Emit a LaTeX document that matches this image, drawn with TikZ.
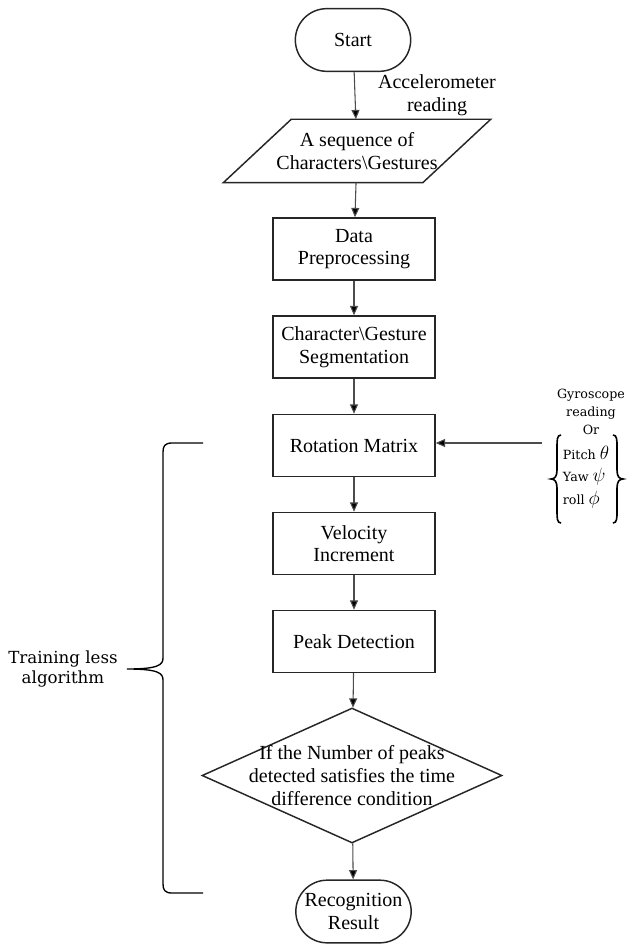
\documentclass[tikz,border=0pt]{standalone}
\usepackage{amsmath}
\usepackage{fontspec}
\setmainfont{Liberation Serif}
\newfontfamily\schfont{DejaVu Serif}
\usetikzlibrary{shapes.geometric,shapes.misc,arrows.meta}

\begin{document}
\begin{tikzpicture}[x=0.75pt, y=-0.75pt,
    box/.style={draw=black!85, line width=1.1pt, minimum width=121.5pt, minimum height=46.5pt,
      align=center, inner sep=1pt, font=\fontsize{15}{17}\selectfont},
    terminal/.style={box, rounded rectangle, minimum width=88.5pt, minimum height=47pt},
    flow/.style={-{Triangle[length=7pt,width=6pt,fill=black]}, line width=0.8pt, draw=black!70},
    side/.style={align=center, inner sep=0pt, font=\schfont\fontsize{9.5}{13.5}\selectfont}]
  \useasboundingbox (0,0) rectangle (627,944);

  % Main chain
  \node[terminal] (start) at (353,40) {Start};
  \node[box, draw=none, minimum width=148.5pt] (seq) at (357,151) {A sequence of\\Characters\textbackslash Gestures};
  \draw[line width=1.1pt, black!85] ([xshift=-25.5pt]seq.south west) -- ([xshift=25.5pt]seq.north west)
    -- ([xshift=25.5pt]seq.north east) -- ([xshift=-25.5pt]seq.south east) -- cycle;
  \node[box] (data) at (354,249) {Data\\Preprocessing};
  \node[box] (seg) at (354,347) {Character\textbackslash Gesture\\Segmentation};
  \node[box] (rot) at (354,445.5) {Rotation Matrix};
  \node[box] (vel) at (354,543.5) {Velocity\\Increment};
  \node[box] (peak) at (354,641.5) {Peak Detection};
  \node[box, diamond, minimum width=225pt, minimum height=101.25pt, inner sep=0pt] (cond) at (352,775.5) {};
  \node[align=center, font=\fontsize{15}{17}\selectfont] (condtext) at (cond.center) {If the Number of peaks\\detected satisfies the time\\difference condition};
  \node[terminal] (result) at (353.5,911.5) {Recognition\\Result};

  % Arrows
  \draw[flow] (start) -- (seq);
  \draw[flow] (seq) -- (data);
  \draw[flow] (data) -- (seg);
  \draw[flow] (seg) -- (rot);
  \draw[flow] (rot) -- (vel);
  \draw[flow] (vel) -- (peak);
  \draw[flow] (peak) -- (cond);
  \draw[flow] (cond) -- (result);

  % Sensor inputs
  \node[align=center, font=\fontsize{15}{17}\selectfont] (acc) at (437,95) {Accelerometer\\reading};
  \coordinate (gyro) at (542,443);
  \draw[flow] (gyro) -- (gyro -| rot.east);
  \node[side] (gyrolbl) at (591,412) {Gyroscope\\reading\\Or};
  \node[side, align=left, font=\schfont\fontsize{9.5}{17}\selectfont] (angles) at (586,477)
    {Pitch {\Large$\theta$}\\Yaw {\Large$\psi$}\\roll {\Large$\phi$}};
  % braces round the angles
  \draw[line width=1.2pt] (561,435) .. controls (557,435) and (557,440) .. (557,447) -- (557,470)
    .. controls (557,476) and (555,479) .. (551,479) .. controls (555,479) and (557,482) .. (557,488)
    -- (557,511) .. controls (557,518) and (557,523) .. (561,523);
  \draw[line width=1.2pt] (613,435) .. controls (617,435) and (617,440) .. (617,447) -- (617,470)
    .. controls (617,476) and (619,479) .. (623,479) .. controls (619,479) and (617,482) .. (617,488)
    -- (617,511) .. controls (617,518) and (617,523) .. (613,523);

  % Brace around the training less part
  \coordinate (tip) at (127,669);
  \draw[line width=1pt] (203,443) -- (172,443) .. controls (165,443) and (163,446) .. (163,452)
    -- (163,658) .. controls (163,665) and (158,669) .. (tip)
    .. controls (158,669) and (163,673) .. (163,680)
    -- (163,884) .. controls (163,890) and (165,893) .. (172,893) -- (203,893);
  \node[side, font=\schfont\fontsize{12.5}{15}\selectfont] (train) at (63,669) {Training less\\algorithm};
\end{tikzpicture}
\end{document}
